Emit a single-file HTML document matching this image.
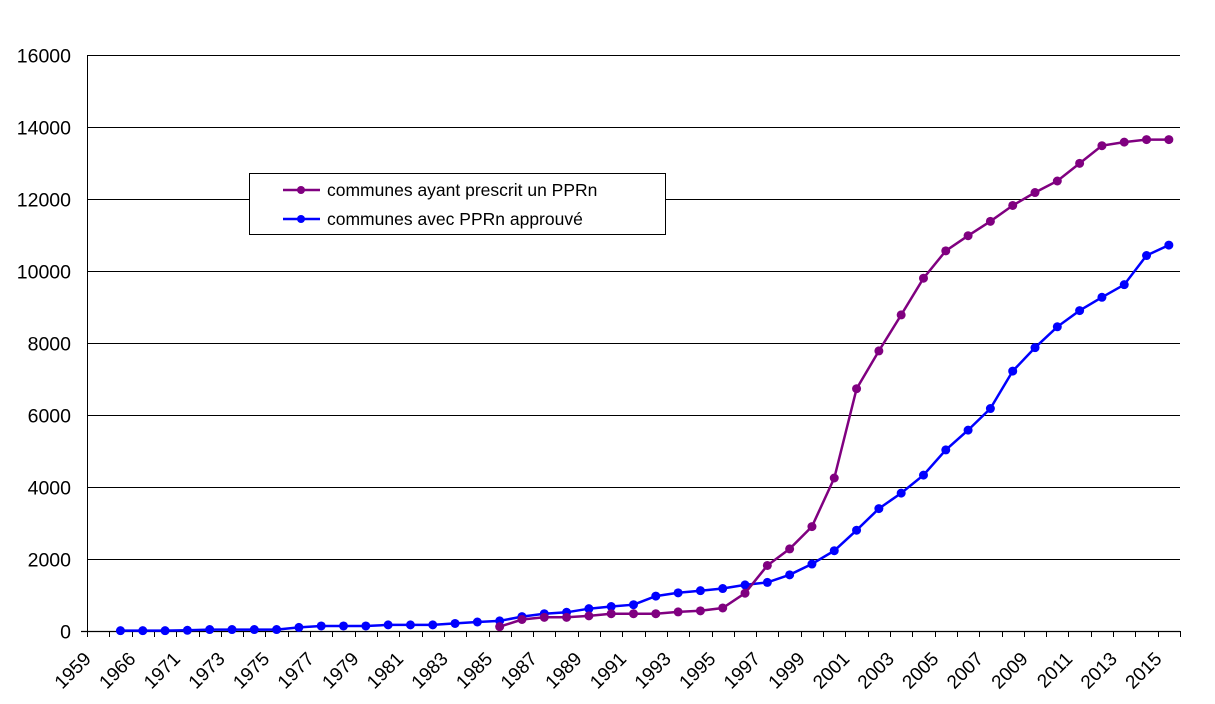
<!DOCTYPE html>
<html><head><meta charset="utf-8"><style>
html,body{margin:0;padding:0;background:#fff;}
svg{display:block;font-family:"Liberation Sans",sans-serif;}
</style></head><body>
<svg id="chart" width="1215" height="704" viewBox="0 0 1215 704" xmlns="http://www.w3.org/2000/svg">
<g id="grid"></g>
<g id="yaxis"></g>
<g id="xaxis"></g>
<g id="series"></g>
<g>
<rect x="249.5" y="173.5" width="416" height="61" fill="#fff" stroke="#000" stroke-width="1"/>
<g>
<line x1="283" y1="190" x2="320" y2="190" stroke="#800080" stroke-width="2.5"/>
<circle cx="301" cy="190" r="4" fill="#800080"/>
<text x="327" y="196" font-size="17.5" fill="#000">communes ayant prescrit un PPRn</text>
</g>
<g>
<line x1="283" y1="219" x2="320" y2="219" stroke="#0000ff" stroke-width="2.5"/>
<circle cx="301" cy="219" r="4" fill="#0000ff"/>
<text x="327" y="225" font-size="17.5" fill="#000">communes avec PPRn approuvé</text>
</g>
</g>
</svg>
<script>
const categories=["1959","1965","1966","1970","1971","1972","1973","1974","1975","1976","1977","1978","1979","1980","1981","1982","1983","1984","1985","1986","1987","1988","1989","1990","1991","1992","1993","1994","1995","1996","1997","1998","1999","2000","2001","2002","2003","2004","2005","2006","2007","2008","2009","2010","2011","2012","2013","2014","2015"];
const approuve=[null,10,10,10,20,40,40,40,40,100,140,140,140,170,170,170,210,250,280,400,480,520,620,680,730,970,1060,1120,1180,1280,1350,1560,1860,2230,2800,3400,3830,4330,5030,5580,6180,7220,7870,8450,8900,9270,9620,10430,10720];
const prescrit=[null,null,null,null,null,null,null,null,null,null,null,null,null,null,null,null,null,null,120,320,380,380,420,480,480,480,530,560,640,1050,1820,2280,2900,4250,6730,7780,8780,9800,10560,10980,11380,11820,12180,12500,12990,13480,13580,13650,13650];
const yTicks=[0,2000,4000,6000,8000,10000,12000,14000,16000];
const NS="http://www.w3.org/2000/svg";
const X0=87,X1=1180,Y0=631,Y1=55,YMAX=16000;
const cw=(X1-X0)/categories.length;
function xPos(i){return X0+(i+0.5)*cw;}
function yPos(v){return Y0-(v/YMAX)*(Y0-Y1);}
function mk(tag,attrs,parent){const e=document.createElementNS(NS,tag);for(const k in attrs)e.setAttribute(k,attrs[k]);parent.appendChild(e);return e;}
const grid=document.getElementById('grid'),ya=document.getElementById('yaxis'),xa=document.getElementById('xaxis'),ser=document.getElementById('series');
yTicks.forEach(v=>{
  const y=Math.round(yPos(v))+0.5;
  if(v>0){const g=mk('line',{x1:X0,x2:X1,y1:y,y2:y,stroke:'#000','stroke-width':1},grid);
  
  }
  const t=mk('text',{x:71,y:y+7,'text-anchor':'end','font-size':19.5},ya);
  t.textContent=v;
  
  
});
mk('line',{x1:X0+0.5,x2:X0+0.5,y1:Y1,y2:Y0,stroke:'#000','stroke-width':1},ya);
mk('line',{x1:X0-6,x2:X1,y1:Y0+0.5,y2:Y0+0.5,stroke:'#000','stroke-width':1.2},xa);
for(let i=0;i<=categories.length;i++){
  const x=Math.round(X0+i*cw)+0.5;
  mk('line',{x1:x,x2:x,y1:Y0,y2:Y0+6,stroke:'#000','stroke-width':1},xa);
}
categories.forEach((c,i)=>{
  if(i%2!==0)return;
  const x=xPos(i)-6,y=Y0+29;
  const t=mk('text',{x:x,y:y,'text-anchor':'end','font-size':19,transform:`rotate(-45 ${x} ${y})`},xa);
  t.textContent=c;
  
  
});
function drawSeries(vals,color,name){
  let d='';
  vals.forEach((v,i)=>{if(v===null)return;d+=(d?'L':'M')+xPos(i).toFixed(1)+' '+yPos(v).toFixed(1);});
  const p=mk('path',{d:d,fill:'none',stroke:color,'stroke-width':2.5},ser);
  
  
  vals.forEach((v,i)=>{if(v===null)return;
    const c=mk('circle',{cx:xPos(i),cy:yPos(v),r:4.5,fill:color},ser);
    
    
  });
}
drawSeries(approuve,'#0000ff','approuve');
drawSeries(prescrit,'#800080','prescrit');
</script>
</body></html>
